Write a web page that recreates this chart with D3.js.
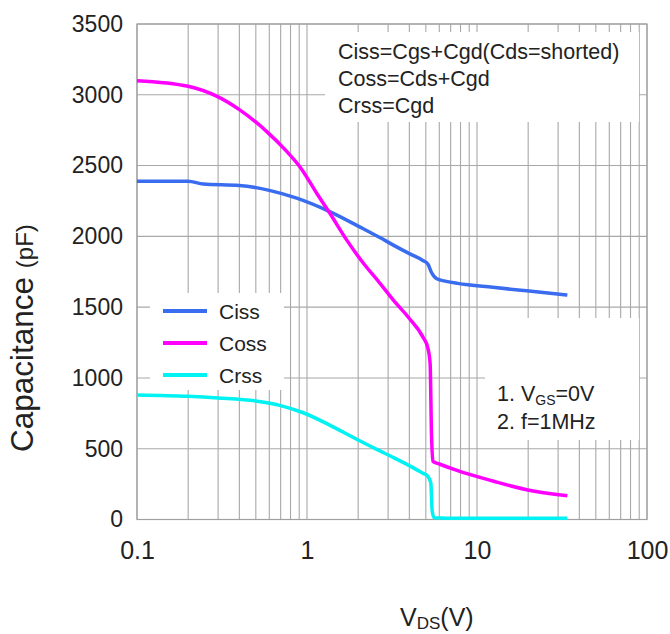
<!DOCTYPE html>
<html>
<head>
<meta charset="utf-8">
<script src="https://cdn.jsdelivr.net/npm/d3@7"></script>
<style>
  html, body { margin: 0; padding: 0; background: #fff; }
  svg { display: block; }
  text { font-family: "Liberation Sans", Arial, sans-serif; fill: #222; }
</style>
</head>
<body>
<svg id="chart" width="670" height="634"></svg>
<script>
// ---- data ----
const xTickValues = [0.1, 1, 10, 100];
const xTickLabels = ["0.1", "1", "10", "100"];
const yTickValues = [0, 500, 1000, 1500, 2000, 2500, 3000, 3500];

const cissV = [0.1, 0.2, 0.245, 0.4, 0.6, 0.87, 1.36, 2.13, 2.68, 3.22, 4.0, 4.8, 5.14, 5.4, 5.8, 6.6, 7.7, 12.4, 19.6, 34];
const cissC = [2390, 2390, 2370, 2360, 2325, 2270, 2175, 2055, 1992, 1938, 1878, 1830, 1805, 1745, 1700, 1682, 1668, 1640, 1615, 1586];

const cossV = [0.1, 0.2, 0.3, 0.4, 0.58, 0.76, 0.91, 1.14, 1.36, 1.71, 2.13, 2.68, 3.22, 4.0, 4.8, 5.14, 5.3, 5.4, 5.5, 6.0, 7.7, 12.4, 19.6, 34];
const cossC = [3100, 3060, 2985, 2895, 2740, 2600, 2490, 2305, 2165, 1975, 1815, 1670, 1550, 1420, 1290, 1210, 1100, 600, 410, 392, 345, 272, 210, 168];

const crssV = [0.1, 0.2, 0.3, 0.51, 0.69, 0.95, 1.36, 1.97, 2.68, 3.22, 4.0, 4.8, 5.14, 5.35, 5.45, 5.6, 8, 34];
const crssC = [880, 870, 858, 835, 806, 754, 667, 565, 485, 438, 380, 327, 305, 258, 60, 12, 8, 8];

const seriesNames = ["Ciss", "Coss", "Crss"];
const seriesColors = ["#3a6cf0", "#ff00ff", "#00f2f2"];

const noteLines = ["Ciss=Cgs+Cgd(Cds=shorted)", "Coss=Cds+Cgd", "Crss=Cgd"];

// ---- layout ----
const svg = d3.select("#chart");
const L = 137, R = 647, T = 24, B = 519.5;

const x = d3.scaleLog().domain([0.1, 100]).range([L, R]);
const y = d3.scaleLinear().domain([0, 3500]).range([B, T]);

// grid
const minors = [];
[0.1, 1, 10].forEach(d => { for (let k = 1; k <= 9; k++) minors.push(+(d * k).toPrecision(3)); });
minors.push(100);

const grid = svg.append("g");
grid.selectAll("line.v").data(minors).join("line")
  .attr("x1", d => x(d)).attr("x2", d => x(d))
  .attr("y1", T).attr("y2", B)
  .attr("stroke", "#a8a8a8").attr("stroke-width", 1.1);
grid.selectAll("line.h").data(yTickValues).join("line")
  .attr("x1", L).attr("x2", R)
  .attr("y1", d => y(d)).attr("y2", d => y(d))
  .attr("stroke", "#a8a8a8").attr("stroke-width", 1.1);

// white annotation boxes covering the grid
svg.append("rect").attr("x", 325).attr("y", 32).attr("width", 314).attr("height", 90).attr("fill", "#fff");
svg.append("rect").attr("x", 150).attr("y", 293).attr("width", 134).attr("height", 97).attr("fill", "#fff");
svg.append("rect").attr("x", 485).attr("y", 318).attr("width", 154).attr("height", 122).attr("fill", "#fff");

// border
svg.append("rect").attr("x", L).attr("y", T).attr("width", R - L).attr("height", B - T)
  .attr("fill", "none").attr("stroke", "#a0a0a0").attr("stroke-width", 1.2);

// axes (labels only)
const yAxis = d3.axisLeft(y).tickValues(yTickValues).tickFormat(d3.format("d")).tickSize(0).tickPadding(14);
const gy = svg.append("g").attr("transform", `translate(${L},0)`).call(yAxis);
gy.select(".domain").remove();
gy.selectAll("text").style("font-size", "23px").attr("fill", "#222");

const xAxis = d3.axisBottom(x).tickValues(xTickValues).tickFormat((d, i) => xTickLabels[i]).tickSize(0).tickPadding(22);
const gx = svg.append("g").attr("transform", `translate(0,${B})`).call(xAxis);
gx.select(".domain").remove();
gx.selectAll("text").style("font-size", "25px").attr("fill", "#222");

// curves
const line = d3.line().x(d => x(d[0])).y(d => y(d[1])).curve(d3.curveMonotoneX);
const series = [
  d3.zip(cissV, cissC),
  d3.zip(cossV, cossC),
  d3.zip(crssV, crssC)
];
series.forEach((s, i) => {
  svg.append("path").datum(s).attr("d", line)
    .attr("fill", "none").attr("stroke", seriesColors[i])
    .attr("stroke-width", 3.5).attr("stroke-linejoin", "round").attr("stroke-linecap", "butt");
});

// legend
const legY = [311, 343, 375];
seriesNames.forEach((n, i) => {
  svg.append("line").attr("x1", 163).attr("x2", 207).attr("y1", legY[i]).attr("y2", legY[i])
    .attr("stroke", seriesColors[i]).attr("stroke-width", 4);
  svg.append("text").attr("x", 219).attr("y", legY[i] + 8).style("font-size", "21px").text(n);
});

// formula note
noteLines.forEach((t, i) => {
  svg.append("text").attr("x", 338).attr("y", 59 + i * 27).style("font-size", "21.5px").text(t);
});

// condition note
const n1 = svg.append("text").attr("x", 497).attr("y", 401).style("font-size", "21.5px");
n1.append("tspan").text("1. V");
n1.append("tspan").attr("dy", 4).style("font-size", "14px").text("GS");
n1.append("tspan").attr("dy", -4).text("=0V");
svg.append("text").attr("x", 497).attr("y", 429).style("font-size", "21.5px").text("2. f=1MHz");

// axis titles
const yt = svg.append("text").attr("transform", "translate(33,452) rotate(-90)").style("font-size", "31.5px").attr("fill", "#000");
yt.append("tspan").text("Capacitance ");
yt.append("tspan").style("font-size", "24px").text("(pF)");

const xt = svg.append("text").attr("x", 400).attr("y", 626).style("font-size", "25px");
xt.append("tspan").text("V");
xt.append("tspan").attr("dy", 3).style("font-size", "17px").text("DS");
xt.append("tspan").attr("dy", -3).text("(V)");
</script>
</body>
</html>
